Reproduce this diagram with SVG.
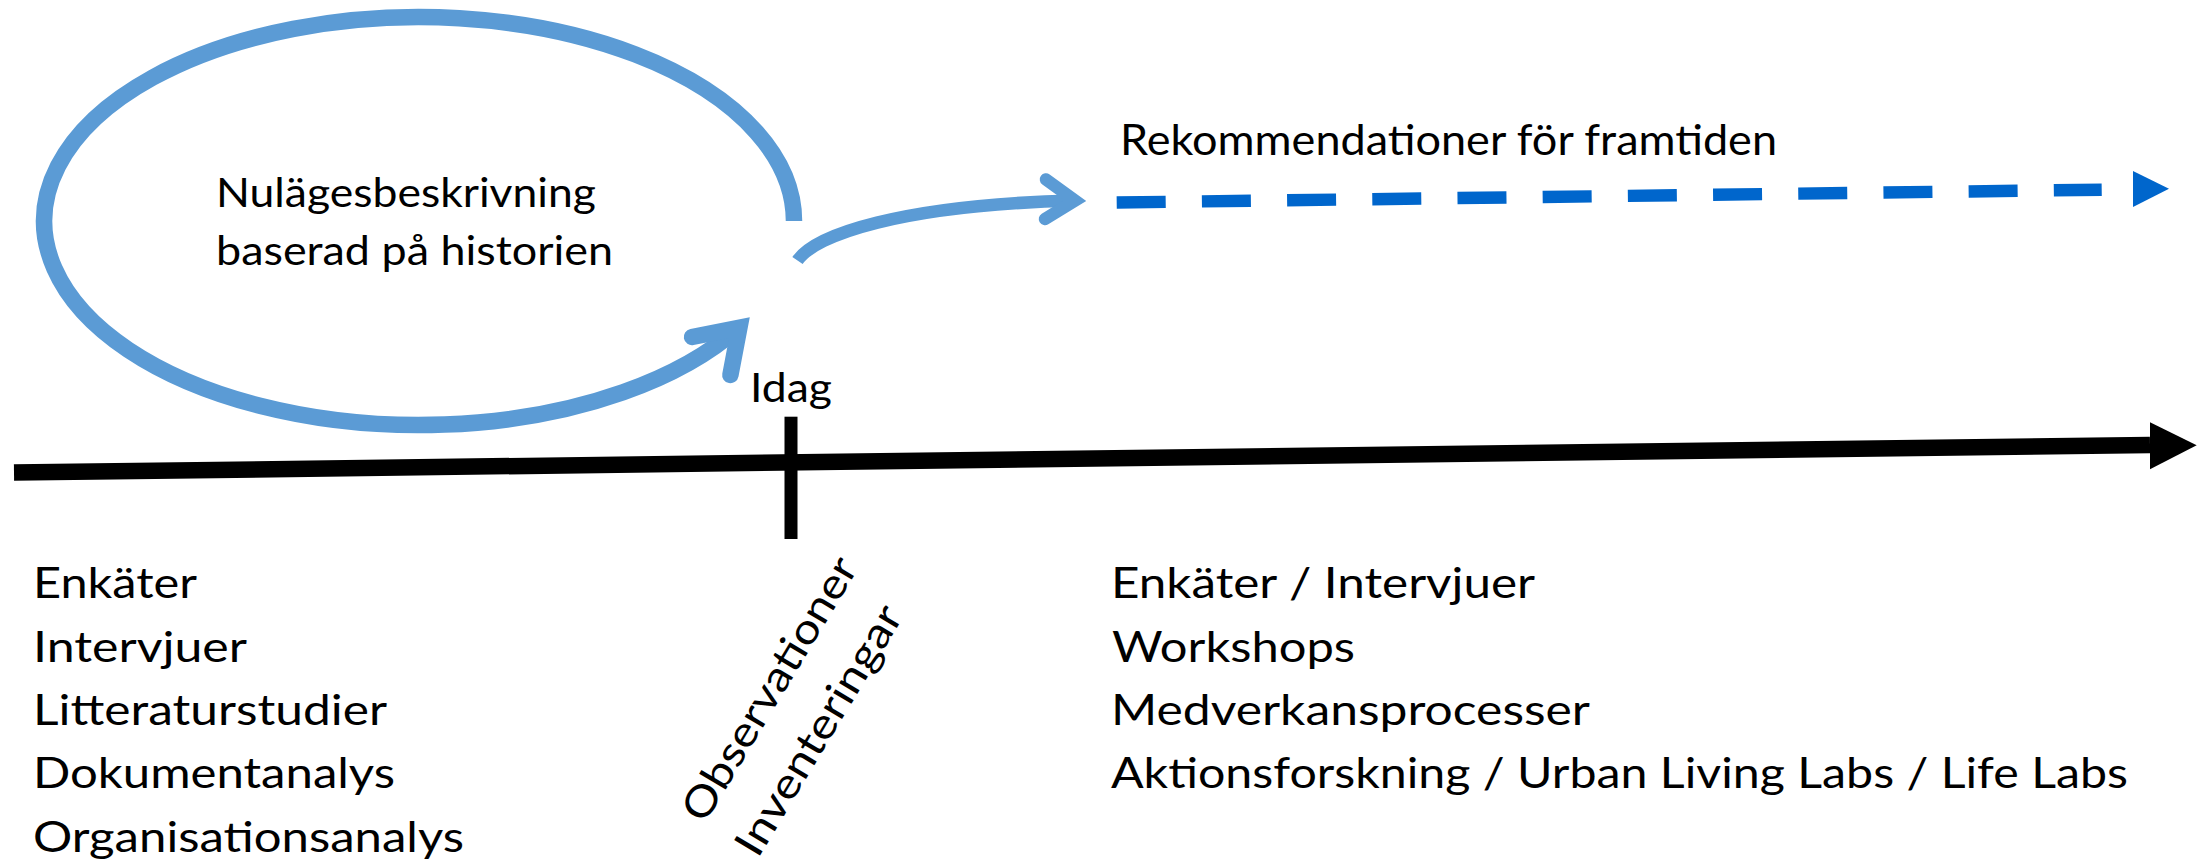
<svg xmlns="http://www.w3.org/2000/svg" width="2205" height="864" viewBox="0 0 2205 864">
<style>
.t{font-family:Lato,"Open Sans","Liberation Sans",sans-serif;fill:#000}
.lb{fill:none;stroke:#5B9BD5;stroke-linecap:butt}
.chev{fill:none;stroke:#5B9BD5;stroke-linecap:round;stroke-linejoin:miter;stroke-miterlimit:10}
</style>
<rect width="2205" height="864" fill="#fff"/>
<g id="connectors">
  <g id="loop">
    <path class="lb" stroke-width="16.5" d="M794 221 A374.9 204 0 1 0 739.4 327.1"/>
    <polyline class="chev" stroke-width="16.5" points="692,337 739.4,327.6 730.4,375"/>
  </g>
  <g id="to-future">
    <path class="lb" stroke-width="12.5" d="M797.5 260.5 C815 235 900 205 1075 200.5"/>
    <polyline class="chev" stroke-width="12.5" points="1046,179.5 1075,200.5 1045,219"/>
  </g>
  <g id="future-dashed">
    <line x1="1116.7" y1="202.5" x2="2101.7" y2="189.7" stroke="#0066CC" stroke-width="12.4" stroke-dasharray="49 36.2"/>
    <polygon points="2133,171 2133,207 2169,188.7" fill="#0066CC"/>
  </g>
  <g id="timeline">
    <line x1="14" y1="472.5" x2="2150" y2="445" stroke="#000" stroke-width="16.5"/>
    <polygon points="2150,422.3 2150,469.3 2196.7,445.3" fill="#000"/>
    <rect x="784.5" y="416.7" width="13" height="122.3" fill="#000"/>
  </g>
</g>
<g id="node-nulage">
  <text class="t" x="216" y="207" font-size="41" textLength="380" lengthAdjust="spacingAndGlyphs">Nulägesbeskrivning</text>
  <text class="t" x="216" y="265" font-size="41" textLength="397" lengthAdjust="spacingAndGlyphs">baserad på historien</text>
</g>
<g id="node-rekommendationer">
  <text class="t" x="1120" y="155" font-size="43" textLength="657" lengthAdjust="spacingAndGlyphs">Rekommendationer för framtiden</text>
</g>
<g id="node-idag">
  <text class="t" x="750" y="402.3" font-size="40.5" textLength="82" lengthAdjust="spacingAndGlyphs">Idag</text>
</g>
<g id="node-methods-past">
  <text class="t" x="33" y="598.3" font-size="42" textLength="164" lengthAdjust="spacingAndGlyphs">Enkäter</text>
  <text class="t" x="33" y="661.6" font-size="42" textLength="214" lengthAdjust="spacingAndGlyphs">Intervjuer</text>
  <text class="t" x="33" y="724.9" font-size="42" textLength="354" lengthAdjust="spacingAndGlyphs">Litteraturstudier</text>
  <text class="t" x="33" y="788.2" font-size="42" textLength="362" lengthAdjust="spacingAndGlyphs">Dokumentanalys</text>
  <text class="t" x="33" y="851.5" font-size="42" textLength="431" lengthAdjust="spacingAndGlyphs">Organisationsanalys</text>
</g>
<g id="node-methods-today">
  <text class="t" x="781.8" y="696.1" font-size="42" text-anchor="middle" textLength="300" lengthAdjust="spacingAndGlyphs" transform="rotate(-59 781.8 696.1)">Observationer</text>
  <text class="t" x="831" y="737.6" font-size="42" text-anchor="middle" textLength="284" lengthAdjust="spacingAndGlyphs" transform="rotate(-59 831 737.6)">Inventeringar</text>
</g>
<g id="node-methods-future">
  <text class="t" x="1111" y="598.3" font-size="42" textLength="424" lengthAdjust="spacingAndGlyphs">Enkäter / Intervjuer</text>
  <text class="t" x="1112" y="661.6" font-size="42" textLength="243" lengthAdjust="spacingAndGlyphs">Workshops</text>
  <text class="t" x="1111" y="724.9" font-size="42" textLength="479" lengthAdjust="spacingAndGlyphs">Medverkansprocesser</text>
  <text class="t" x="1111" y="788.2" font-size="42" textLength="1017" lengthAdjust="spacingAndGlyphs">Aktionsforskning / Urban Living Labs / Life Labs</text>
</g>
</svg>
